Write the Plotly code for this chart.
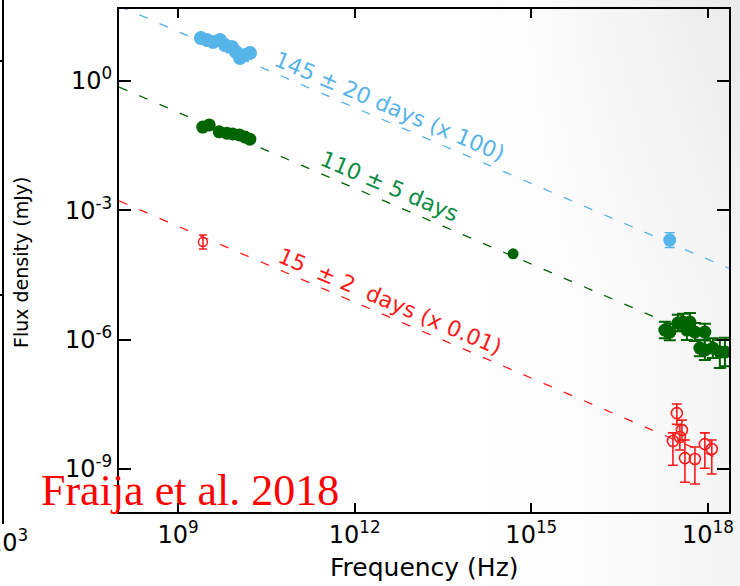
import numpy as np
import plotly.graph_objects as go

W, H = 740, 586

# ---- data: frequency (Hz) and flux density (mJy) ----
# blue: radio points (x 100) and one X-ray point
blue_radio_nu = [2.45e9, 3.09e9, 3.93e9, 5.16e9, 6.28e9, 8.26e9, 9.66e9, 1.13e10, 1.37e10, 1.67e10]
blue_radio_flux = [9.95, 8.93, 8.04, 8.93, 6.84, 6.15, 4.71, 3.42, 4.01, 4.47]
blue_xray_nu = [2.24e17]
blue_xray_flux = [2.04e-4]
blue_xray_err_dex = [0.17]

# green: radio, optical and X-ray points
green_radio_nu = [2.63e9, 3.39e9, 5.01e9, 6.76e9, 8.51e9, 1.10e10, 1.38e10, 1.66e10]
green_radio_flux = [0.0851, 0.0955, 0.0661, 0.0617, 0.0589, 0.0562, 0.0501, 0.0447]
green_opt_nu = [4.9e14]
green_opt_flux = [9.8e-5]
green_xray_nu = [1.85e17, 2.25e17, 3.08e17, 3.75e17, 4.93e17, 4.39e17, 6.00e17,
                 8.85e17, 7.28e17, 8.85e17, 1.21e18, 1.59e18, 1.94e18]
green_xray_flux = [1.67e-6, 1.50e-6, 2.43e-6, 2.56e-6, 2.56e-6, 1.67e-6, 1.50e-6,
                   1.50e-6, 6.38e-7, 5.74e-7, 6.38e-7, 5.15e-7, 5.15e-7]
green_xray_up_dex = [0.19, 0.19, 0.19, 0.19, 0.21, 0.23, 0.21, 0.19, 0.19, 0.23, 0.23, 0.28, 0.33]
green_xray_dn_dex = [0.19, 0.19, 0.19, 0.19, 0.23, 0.23, 0.21, 0.19, 0.19, 0.23, 0.23, 0.37, 0.33]

# red: radio and X-ray points (x 0.01)
red_radio_nu = [2.65e9]
red_radio_flux = [1.84e-4]
red_radio_up_dex = [0.16]
red_radio_dn_dex = [0.16]
red_xray_nu = [2.54e17, 2.96e17, 3.33e17, 3.61e17, 4.06e17, 6.00e17, 8.85e17, 1.16e18]
red_xray_flux = [4.44e-9, 1.98e-8, 5.50e-9, 8.00e-9, 1.79e-9, 1.70e-9, 3.78e-9, 2.90e-9]
red_xray_up_dex = [0.19, 0.21, 0.28, 0.23, 0.42, 0.28, 0.26, 0.21]
red_xray_dn_dex = [0.56, 0.26, 0.30, 0.23, 0.56, 0.58, 0.56, 0.58]

# power-law synchrotron fits (end points)
blue_fit_nu = [1e8, 2.29e18]
blue_fit_flux = [54.3, 4.47e-5]
green_fit_nu = [1e8, 2.29e18]
green_fit_flux = [0.726, 6.03e-7]
red_fit_nu = [1e8, 1.58e18]
red_fit_flux = [1.65e-3, 1.70e-9]

x_tick_vals = [1e9, 1e12, 1e15, 1e18]
x_tick_text = ["10<sup>9</sup>", "10<sup>12</sup>", "10<sup>15</sup>", "10<sup>18</sup>"]
y_tick_vals = [1e0, 1e-3, 1e-6, 1e-9]
y_tick_text = ["10<sup>0</sup>", "10<sup>-3</sup>", "10<sup>-6</sup>", "10<sup>-9</sup>"]

BLUE = "#56B4E9"
GREEN = "#006400"
GREEN_TXT = "#0B8C45"
RED = "#FF1A1A"


def err_up(flux, dex):
    return [f * (10 ** d - 1) for f, d in zip(flux, dex)]


def err_dn(flux, dex):
    return [f * (1 - 10 ** (-d)) for f, d in zip(flux, dex)]


fig = go.Figure()

# soft slide background shading (full-page subplot drawn underneath)
gx = np.linspace(0, W, 75)
gy = np.linspace(0, H, 60)
GX, GY = np.meshgrid(gx, gy)
shade = np.clip((GX - 450) / 290, 0, 1) ** 1.5
corner = np.clip((GX - 480) / 260, 0, 1) * np.clip(1 - GY / 300, 0, 1)
gz = 255 - 11 * shade - 10 * corner
fig.add_trace(go.Heatmap(x=gx, y=gy, z=gz, zmin=225, zmax=255, zsmooth="best",
                         colorscale=[[0, "rgb(225,225,225)"], [1, "rgb(255,255,255)"]],
                         showscale=False, hoverinfo="skip", xaxis="x", yaxis="y"))

dash = "9px,13px"
for nu, fl, col in [(blue_fit_nu, blue_fit_flux, BLUE),
                    (green_fit_nu, green_fit_flux, GREEN),
                    (red_fit_nu, red_fit_flux, RED)]:
    fig.add_trace(go.Scatter(x=nu, y=fl, mode="lines", xaxis="x2", yaxis="y2",
                             line=dict(color=col, width=1.3, dash=dash), hoverinfo="skip"))

# blue
fig.add_trace(go.Scatter(x=blue_radio_nu, y=blue_radio_flux, mode="markers", xaxis="x2", yaxis="y2",
                         marker=dict(color=BLUE, size=14, line=dict(width=0))))
fig.add_trace(go.Scatter(x=blue_xray_nu, y=blue_xray_flux, mode="markers", xaxis="x2", yaxis="y2",
                         marker=dict(color=BLUE, size=13, line=dict(width=0)),
                         error_y=dict(type="data", symmetric=False,
                                      array=err_up(blue_xray_flux, blue_xray_err_dex),
                                      arrayminus=err_dn(blue_xray_flux, blue_xray_err_dex),
                                      color=BLUE, thickness=1.5, width=5)))
# green
fig.add_trace(go.Scatter(x=green_radio_nu, y=green_radio_flux, mode="markers", xaxis="x2", yaxis="y2",
                         marker=dict(color=GREEN, size=13, line=dict(width=0))))
fig.add_trace(go.Scatter(x=green_opt_nu, y=green_opt_flux, mode="markers", xaxis="x2", yaxis="y2",
                         marker=dict(color=GREEN, size=11, line=dict(width=0))))
fig.add_trace(go.Scatter(x=green_xray_nu, y=green_xray_flux, mode="markers", xaxis="x2", yaxis="y2",
                         marker=dict(color=GREEN, size=13, line=dict(width=0)),
                         error_y=dict(type="data", symmetric=False,
                                      array=err_up(green_xray_flux, green_xray_up_dex),
                                      arrayminus=err_dn(green_xray_flux, green_xray_dn_dex),
                                      color=GREEN, thickness=2, width=6)))
# red
fig.add_trace(go.Scatter(x=red_radio_nu, y=red_radio_flux, mode="markers", xaxis="x2", yaxis="y2",
                         marker=dict(color=RED, size=9, symbol="circle-open", line=dict(width=1.5)),
                         error_y=dict(type="data", symmetric=False,
                                      array=err_up(red_radio_flux, red_radio_up_dex),
                                      arrayminus=err_dn(red_radio_flux, red_radio_dn_dex),
                                      color=RED, thickness=1.5, width=4)))
fig.add_trace(go.Scatter(x=red_xray_nu, y=red_xray_flux, mode="markers", xaxis="x2", yaxis="y2",
                         marker=dict(color=RED, size=11, symbol="circle-open", line=dict(width=1.6)),
                         error_y=dict(type="data", symmetric=False,
                                      array=err_up(red_xray_flux, red_xray_up_dex),
                                      arrayminus=err_dn(red_xray_flux, red_xray_dn_dex),
                                      color=RED, thickness=1.6, width=5)))

axis_common = dict(type="log", showline=True, linecolor="black", linewidth=2, mirror="ticks",
                   ticks="inside", tickwidth=2, tickcolor="black", showgrid=False, zeroline=False,
                   automargin=False, tickfont=dict(family="DejaVu Sans", size=24, color="black"))

fig.update_layout(
    width=W, height=H,
    margin=dict(l=0, r=0, t=0, b=0),
    paper_bgcolor="white", plot_bgcolor="rgba(0,0,0,0)",
    showlegend=False,
    xaxis=dict(domain=[0, 1], range=[0, W], visible=False, fixedrange=True),
    yaxis=dict(domain=[0, 1], range=[H, 0], visible=False, fixedrange=True),
    xaxis2=dict(domain=[119 / W, 729 / W], anchor="y2", range=[7.998, 18.357],
                tickvals=x_tick_vals, ticktext=x_tick_text, ticklen=9, **axis_common),
    yaxis2=dict(domain=[74 / H, 577 / H], anchor="x2", range=[-9.998, 1.670],
                tickvals=y_tick_vals, ticktext=y_tick_text, ticklen=12, **axis_common),
)

sans = "DejaVu Sans"
annotations = [
    dict(text="Frequency (Hz)", x=424 / W, y=1 - 567 / H, font=dict(family=sans, size=25, color="black")),
    dict(text="Flux density (mJy)", x=21 / W, y=1 - 263 / H, textangle=-90,
         font=dict(family=sans, size=19, color="black")),
    dict(text="145 ± 20 days (x 100)", x=390 / W, y=1 - 106 / H, textangle=23,
         font=dict(family=sans, size=22, color=BLUE)),
    dict(text="110 ± 5 days", x=390 / W, y=1 - 186 / H, textangle=23,
         font=dict(family=sans, size=22, color=GREEN_TXT)),
    dict(text="15\u00a0 ± 2\u00a0 days (x 0.01)", x=390 / W, y=1 - 301 / H, textangle=23,
         font=dict(family=sans, size=22, color=RED)),
    dict(text="Fraija et al. 2018", x=39 / W, y=1 - 490 / H, xanchor="left",
         font=dict(family="Liberation Serif", size=44, color="#FF0000")),
    # tick label of the neighbouring panel, cut by the page edge
    dict(text="10<sup>3</sup>", x=30 / W, y=1 - 541 / H, xanchor="right",
         font=dict(family=sans, size=24, color="black")),
]
for a in annotations:
    a.setdefault("xanchor", "center")
    a.setdefault("yanchor", "middle")
    fig.add_annotation(xref="paper", yref="paper", showarrow=False, **a)

# frame edge of the neighbouring panel on the left
fig.add_shape(type="line", xref="paper", yref="paper", x0=3 / W, x1=3 / W, y0=1, y1=1 - 524 / H,
              line=dict(color="black", width=2))
for ty in (61, 295):
    fig.add_shape(type="line", xref="paper", yref="paper", x0=-5 / W, x1=3 / W,
                  y0=1 - ty / H, y1=1 - ty / H, line=dict(color="black", width=2))

fig.write_html("out.html")
